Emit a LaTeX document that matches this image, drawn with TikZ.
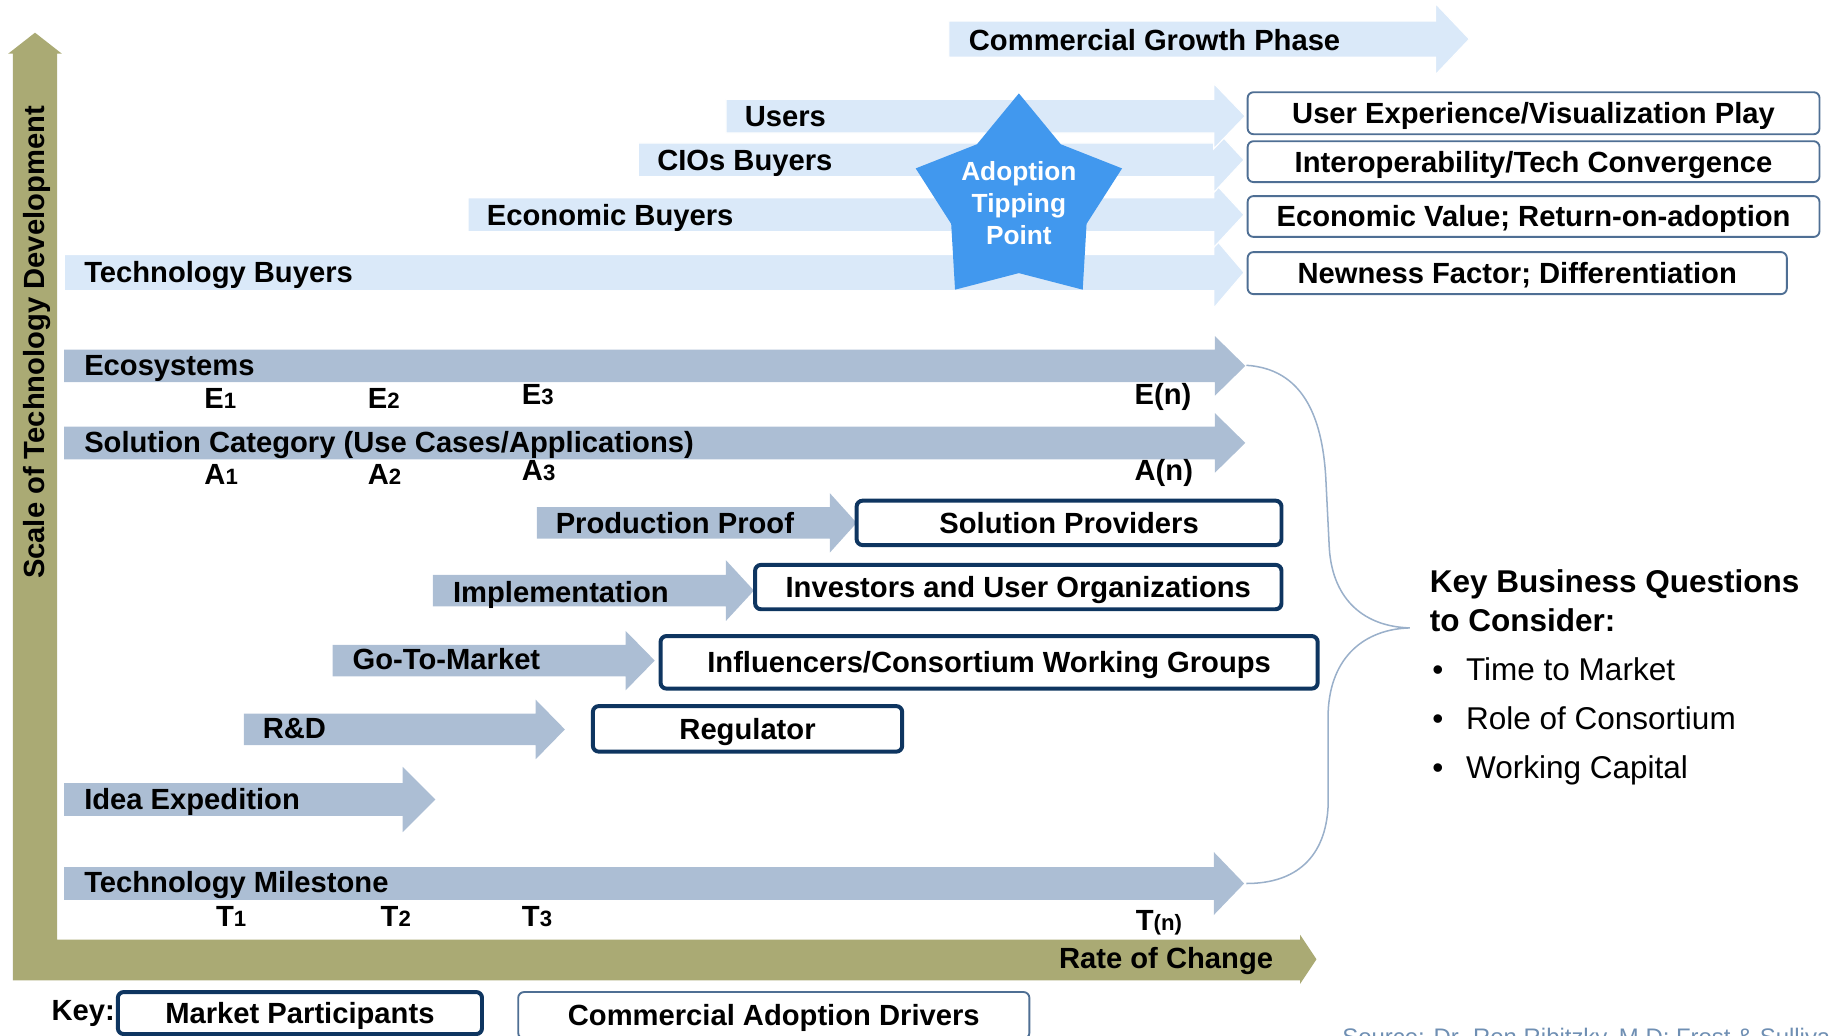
\documentclass[tikz,border=0pt]{standalone}
\usepackage{fontspec}
\setmainfont{Liberation Sans}
\definecolor{lightarrow}{HTML}{DAE9F9}
\definecolor{steelarrow}{HTML}{ACBED4}
\definecolor{axisolive}{HTML}{AAAA74}
\definecolor{starblue}{HTML}{4198EE}
\definecolor{navybox}{HTML}{0E3560}
\definecolor{driverblue}{HTML}{4F6F94}
\definecolor{bracecol}{HTML}{9AB0CA}
\definecolor{sourcecol}{HTML}{6F8FB3}
\newcommand{\blockarr}[7]{%
  \path[#1] (#2,#3-#4) -- (#5,#3-#4) -- (#5,#3-#7) -- (#6,#3) -- (#5,#3+#7) -- (#5,#3+#4) -- (#2,#3+#4) -- cycle;}
\newcommand{\subd}[1]{{\fontsize{19}{19}\selectfont #1}}
\begin{document}
\begin{tikzpicture}[x=1pt,y=-1pt,
  lb/.style={fill=lightarrow, draw=white, line width=1pt},
  sb/.style={fill=steelarrow},
  lab/.style={anchor=base west, inner sep=0pt, font=\fontsize{25}{30}\selectfont\bfseries},
  boxtext/.style={inner sep=0pt, text height=17.9pt, text depth=0pt, font=\fontsize{25}{30}\selectfont\bfseries},
  mpbox/.style={boxtext, draw=navybox, line width=3.4pt, rounded corners=5pt, fill=white},
  cadbox/.style={boxtext, draw=driverblue, line width=1.6pt, rounded corners=5pt, fill=white},
  kqtitle/.style={anchor=base west, inner sep=0pt, font=\fontsize{27}{32}\selectfont\bfseries},
  kqitem/.style={anchor=base west, inner sep=0pt, font=\fontsize{27}{32}\selectfont},
  brace/.style={draw=bracecol, line width=1.3pt}
]
\useasboundingbox (0,0) rectangle (1568,887);
\clip (0,0) rectangle (1568,887);

% ---- axes ----
\fill[axisolive] (11,46) -- (7,46) -- (30,28) -- (53,46) -- (49,46) -- (49,805)
  -- (1114,805) -- (1114,801) -- (1128,822) -- (1114,843) -- (1114,840) -- (11,840) -- cycle;
\node[rotate=90, anchor=base, inner sep=0pt, font=\fontsize{25}{30}\selectfont\bfseries] (ylab) at (38,293.5) {Scale of Technology Development};
\node[anchor=base east, inner sep=0pt, font=\fontsize{25}{30}\selectfont\bfseries] (xlab) at (1091,830) {Rate of Change};

% ---- commercial (light) arrows ----
\blockarr{lb}{813}{33.5}{15.5}{1230}{1259}{30.5}
\blockarr{lb}{55}{233.5}{15.5}{1040}{1066}{30.5}
\blockarr{lb}{401}{184}{14.5}{1040}{1066}{28}
\blockarr{lb}{547}{137}{14.5}{1040}{1066}{28}
\blockarr{lb}{622}{99.5}{14.5}{1040}{1067}{28}
\node[lab] (cgp) at (830,43) {Commercial Growth Phase};
\node[lab] (users) at (638,108) {Users};
\node[lab] (cios) at (563,146.5) {CIOs Buyers};
\node[lab] (econb) at (417,193) {Economic Buyers};
\node[lab] (techb) at (72,242) {Technology Buyers};

% ---- star ----
\fill[starblue] (873,80) -- (908.9,123.6) -- (961.4,144.3) -- (931,191.8) -- (927.7,248.2)
  -- (873,234) -- (818.3,248.2) -- (815,191.8) -- (784.6,144.3) -- (837.1,123.6) -- cycle;
\node[align=center, text=white, inner sep=0pt, font=\fontsize{22.5}{27.5}\selectfont\bfseries] (tip) at (873,174) {Adoption\\Tipping\\Point};

% ---- commercial adoption drivers ----
\node[cadbox, minimum width=490pt, minimum height=36pt] (ux) at (1314,97) {User Experience/Visualization Play};
\node[cadbox, minimum width=490pt, minimum height=35pt] (interop) at (1314,138.5) {Interoperability/Tech Convergence};
\node[cadbox, minimum width=490pt, minimum height=35pt] (econv) at (1314,185.5) {Economic Value; Return-on-adoption};
\node[cadbox, minimum width=462pt, minimum height=36pt] (newness) at (1300,234) {Newness Factor; Differentiation};

% ---- technology (steel) arrows ----
\blockarr{sb}{55}{313.5}{14}{1041}{1067}{25.5}
\blockarr{sb}{55}{379.5}{14}{1041}{1067}{25.5}
\blockarr{sb}{460}{448}{13.5}{711}{734}{25.5}
\blockarr{sb}{371}{506}{13.5}{622}{646}{26}
\blockarr{sb}{285}{566}{13.5}{536}{561}{25.5}
\blockarr{sb}{209}{625}{13.5}{459}{484}{25.5}
\blockarr{sb}{55}{685}{14}{345}{373}{28}
\blockarr{sb}{55}{757}{14}{1040}{1066}{27}
\node[lab] (eco) at (72,322) {Ecosystems};
\node[lab] (solcat) at (72,388) {Solution Category (Use Cases/Applications)};
\node[lab] (prodproof) at (476,457) {Production Proof};
\node[lab] (impl) at (388,516) {Implementation};
\node[lab] (gtm) at (302,574) {Go-To-Market};
\node[lab] (rd) at (225,633) {R\&D};
\node[lab] (idea) at (72,694) {Idea Expedition};
\node[lab] (techm) at (72,765) {Technology Milestone};

\node[lab] (e1) at (175,350) {E\subd{1}};
\node[lab] (e2) at (315,350) {E\subd{2}};
\node[lab] (e3) at (447,346.5) {E\subd{3}};
\node[lab] (en) at (972,347) {E(n)};
\node[lab] (a1) at (175,415) {A\subd{1}};
\node[lab] (a2) at (315,415) {A\subd{2}};
\node[lab] (a3) at (447,412) {A\subd{3}};
\node[lab] (an) at (972,412) {A(n)};
\node[lab] (t1) at (185,794) {T\subd{1}};
\node[lab] (t2) at (326,794) {T\subd{2}};
\node[lab] (t3) at (447,794) {T\subd{3}};
\node[lab] (tn) at (973,797) {T\subd{(n)}};

% ---- market participants ----
\node[mpbox, minimum width=364pt, minimum height=38pt] (solprov) at (916,448) {Solution Providers};
\node[mpbox, minimum width=451pt, minimum height=38pt] (invest) at (872.5,503) {Investors and User Organizations};
\node[mpbox, minimum width=563pt, minimum height=45pt] (influ) at (847.5,567.5) {Influencers/Consortium Working Groups};
\node[mpbox, minimum width=265pt, minimum height=39pt] (regul) at (640.5,624.5) {Regulator};

% ---- brace ----
\coordinate (ecotip) at (1068,313);
\coordinate (tmtip) at (1068,757);
\coordinate (kqtip) at (1208,538);
\draw[brace] (ecotip) .. controls (1115,316) and (1133,355) .. (1136,410) -- (1139,470)
  .. controls (1142,515) and (1170,537) .. (kqtip)
  .. controls (1170,539) and (1140,562) .. (1138,610) -- (1138,690)
  .. controls (1136,735) and (1110,757) .. (tmtip);

% ---- key business questions ----
\node[kqtitle] (kq1) at (1225,508) {Key Business Questions};
\node[kqtitle] (kq2) at (1225,541) {to Consider:};
\node[kqitem] (q1) at (1227,583) {\makebox[29pt][l]{•}Time to Market};
\node[kqitem] (q2) at (1227,625) {\makebox[29pt][l]{•}Role of Consortium};
\node[kqitem] (q3) at (1227,667) {\makebox[29pt][l]{•}Working Capital};

% ---- key ----
\node[lab] (key) at (44,874) {Key:};
\node[mpbox, minimum width=312pt, minimum height=36pt] (keymp) at (257,868) {Market Participants};
\node[cadbox, minimum width=438pt, minimum height=40pt] (keycad) at (663,870) {Commercial Adoption Drivers};

\node[anchor=base west, inner sep=0pt, text=sourcecol, font=\fontsize{20.5}{24}\selectfont] (src) at (1150,896) {Source: Dr. Ron Ribitzky, M.D; Frost \& Sullivan};
\end{tikzpicture}
\end{document}
